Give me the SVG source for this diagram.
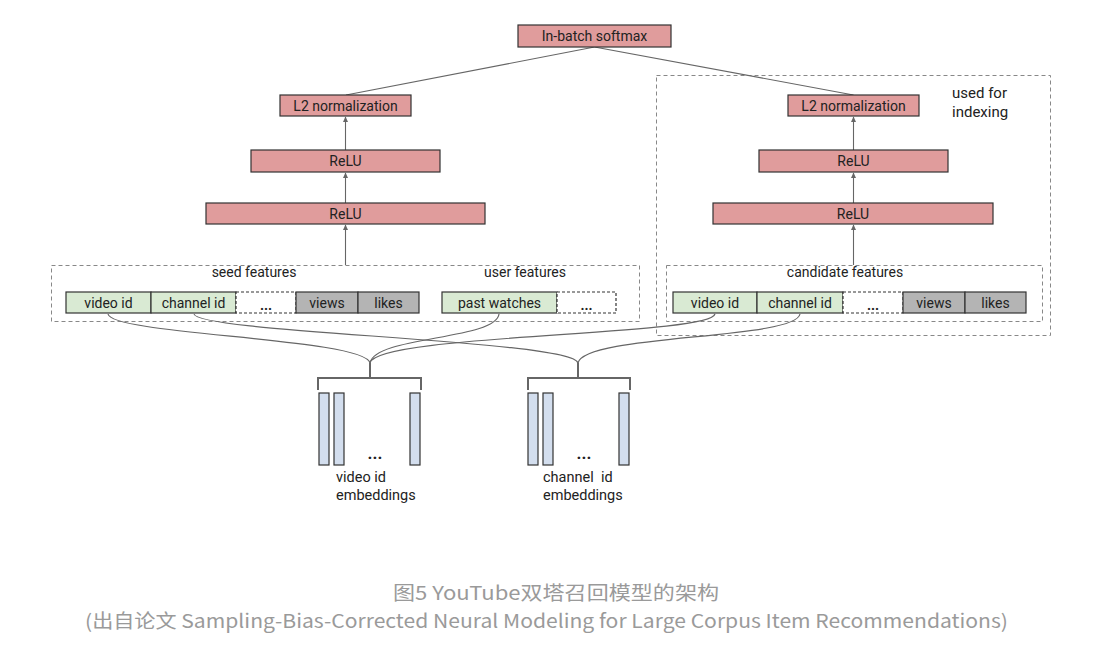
<svg xmlns="http://www.w3.org/2000/svg" width="1112" height="653" viewBox="0 0 1112 653">
<style>
.t{font-family:Roboto,"Liberation Sans",sans-serif;fill:#222;font-size:14px}
.c{text-anchor:middle}
.pink{fill:#e09c9c;stroke:#333;stroke-width:1.2}
.green{fill:#d9ead3;stroke:#333;stroke-width:1.2}
.gray{fill:#b4b4b4;stroke:#333;stroke-width:1.2}
.dots{fill:#fff;stroke:#333;stroke-width:1.2;stroke-dasharray:3 2}
.grp{fill:none;stroke:#888;stroke-width:1;stroke-dasharray:4 3}
.emb{fill:#d3deee;stroke:#333;stroke-width:1.2}
.ln{fill:none;stroke:#666;stroke-width:1.1}
.cv{fill:none;stroke:#666;stroke-width:1.2}
.br{fill:none;stroke:#666;stroke-width:2}
.cap{font-family:"Noto Sans CJK SC","Noto Sans",sans-serif;fill:#9a9a9a;font-size:19px;text-anchor:middle}
</style>
<defs>
<marker id="ah" markerWidth="6" markerHeight="6" refX="5" refY="3" orient="auto" markerUnits="userSpaceOnUse">
<path d="M0,0.5 L5.5,3 L0,5.5 Z" fill="#666"/>
</marker>
</defs>
<rect width="1112" height="653" fill="#fff"/>

<g id="groups">
<rect class="grp" x="656.5" y="75.5" width="394" height="260"/>
<rect class="grp" x="51.5" y="265.5" width="588" height="56"/>
<rect class="grp" x="666.5" y="265.5" width="376" height="56"/>
<text class="t" x="952" y="98" style="font-size:15px">used for</text>
<text class="t" x="952" y="117" style="font-size:15px">indexing</text>
<text class="t c" x="254" y="277">seed features</text>
<text class="t c" x="525" y="277">user features</text>
<text class="t c" x="845" y="277">candidate features</text>
</g>

<g id="connectors">
<line class="ln" x1="594.5" y1="47" x2="346" y2="95"/>
<line class="ln" x1="594.5" y1="47" x2="853.5" y2="95"/>
<line class="ln" x1="345.5" y1="150" x2="345.5" y2="117" marker-end="url(#ah)"/>
<line class="ln" x1="345.5" y1="203" x2="345.5" y2="173" marker-end="url(#ah)"/>
<line class="ln" x1="345.5" y1="265" x2="345.5" y2="225" marker-end="url(#ah)"/>
<line class="ln" x1="853.5" y1="150" x2="853.5" y2="117" marker-end="url(#ah)"/>
<line class="ln" x1="853.5" y1="203" x2="853.5" y2="173" marker-end="url(#ah)"/>
<line class="ln" x1="853.5" y1="265" x2="853.5" y2="225" marker-end="url(#ah)"/>
<path class="cv" d="M108,314 C112,335 365,338 370,363"/>
<path class="cv" d="M194,314 C198,333 573,340 578,363"/>
<path class="cv" d="M499,314 C496,340 375,336 370,363"/>
<path class="cv" d="M715,314 C710,336 375,334 370,363"/>
<path class="cv" d="M800,314 C795,340 585,334 578,363"/>
<path class="br" d="M318,390 L318,378 L421,378 L421,390 M370,378 L370,363"/>
<path class="br" d="M528,390 L528,378 L630,378 L630,390 M578,378 L578,363"/>
</g>

<g id="softmax">
<rect class="pink" x="518" y="25" width="153" height="22"/>
<text class="t c" x="594.5" y="41">In-batch softmax</text>
</g>
<g id="l2-left">
<rect class="pink" x="280" y="95" width="131" height="21"/>
<text class="t c" x="345.5" y="110.5">L2 normalization</text>
</g>
<g id="relu2-left">
<rect class="pink" x="251" y="150" width="189" height="22"/>
<text class="t c" x="345.5" y="166">ReLU</text>
</g>
<g id="relu1-left">
<rect class="pink" x="206" y="203" width="279" height="21"/>
<text class="t c" x="345.5" y="218.5">ReLU</text>
</g>
<g id="l2-right">
<rect class="pink" x="788" y="95" width="131" height="21"/>
<text class="t c" x="853.5" y="110.5">L2 normalization</text>
</g>
<g id="relu2-right">
<rect class="pink" x="759" y="150" width="189" height="22"/>
<text class="t c" x="853.5" y="166">ReLU</text>
</g>
<g id="relu1-right">
<rect class="pink" x="713" y="203" width="280" height="21"/>
<text class="t c" x="853" y="218.5">ReLU</text>
</g>

<g id="seed-features">
<rect class="green" x="66" y="292" width="85" height="21"/>
<text class="t c" x="108.5" y="307.5">video id</text>
<rect class="green" x="151" y="292" width="85" height="21"/>
<text class="t c" x="193.5" y="307.5">channel id</text>
<rect class="dots" x="236" y="292" width="60" height="21"/>
<text class="t c" x="266" y="310" style="font-weight:bold">...</text>
<rect class="gray" x="296" y="292" width="62" height="21"/>
<text class="t c" x="327" y="307.5">views</text>
<rect class="gray" x="358" y="292" width="61" height="21"/>
<text class="t c" x="388.5" y="307.5">likes</text>
</g>
<g id="user-features">
<rect class="green" x="442" y="292" width="115" height="21"/>
<text class="t c" x="499.5" y="307.5">past watches</text>
<rect class="dots" x="557" y="292" width="59" height="21"/>
<text class="t c" x="586.5" y="310" style="font-weight:bold">...</text>
</g>
<g id="candidate-features">
<rect class="green" x="673" y="292" width="84" height="21"/>
<text class="t c" x="715" y="307.5">video id</text>
<rect class="green" x="757" y="292" width="86" height="21"/>
<text class="t c" x="800" y="307.5">channel id</text>
<rect class="dots" x="843" y="292" width="60" height="21"/>
<text class="t c" x="873" y="310" style="font-weight:bold">...</text>
<rect class="gray" x="903" y="292" width="62" height="21"/>
<text class="t c" x="934" y="307.5">views</text>
<rect class="gray" x="965" y="292" width="61" height="21"/>
<text class="t c" x="995.5" y="307.5">likes</text>
</g>

<g id="video-embeddings">
<rect class="emb" x="319" y="393" width="10" height="72"/>
<rect class="emb" x="334" y="393" width="10" height="72"/>
<rect class="emb" x="410" y="393" width="10" height="72"/>
<text class="t c" x="375" y="459" style="font-size:17px;font-weight:bold">...</text>
<text class="t" x="336" y="482" style="font-size:14.5px">video id</text>
<text class="t" x="336" y="500" style="font-size:14.5px">embeddings</text>
</g>
<g id="channel-embeddings">
<rect class="emb" x="528" y="393" width="10" height="72"/>
<rect class="emb" x="543" y="393" width="10" height="72"/>
<rect class="emb" x="619" y="393" width="10" height="72"/>
<text class="t c" x="584" y="459" style="font-size:17px;font-weight:bold">...</text>
<text class="t" x="543" y="482" style="font-size:14.5px" xml:space="preserve">channel  id</text>
<text class="t" x="543" y="500" style="font-size:14.5px">embeddings</text>
</g>

<g id="caption">
<text class="cap" x="556" y="600" textLength="326" lengthAdjust="spacingAndGlyphs">图5 YouTube双塔召回模型的架构</text>
<text class="cap" x="546.5" y="628" textLength="923" lengthAdjust="spacingAndGlyphs">(出自论文 Sampling-Bias-Corrected Neural Modeling for Large Corpus Item Recommendations)</text>
</g>
</svg>
